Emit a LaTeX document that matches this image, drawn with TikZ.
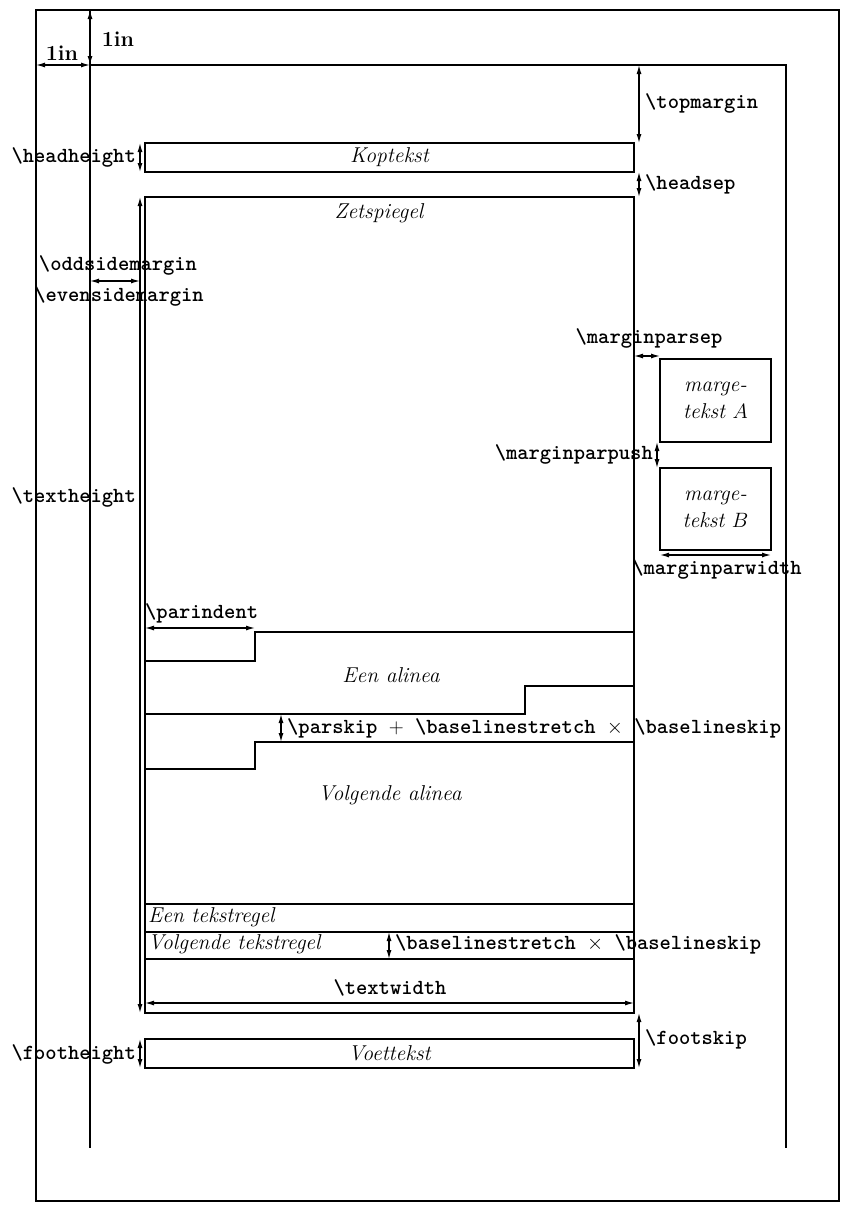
\documentclass[tikz,border=0pt]{standalone}
\usetikzlibrary{arrows.meta}
\newcommand{\fsz}{\fontsize{21.5}{27}\selectfont}
\newcommand{\macro}[1]{\textbackslash #1}

\begin{document}
\begin{tikzpicture}
      [x=1pt, y=-1pt,
      rule/.style={line width=1.5pt},
      box/.style={draw, line width=1.5pt, inner sep=0pt},
      dim/.style={{Latex[length=9pt,width=5pt]}-{Latex[length=9pt,width=5pt]}, line width=1.2pt},
      lbl/.style={inner sep=0pt, font=\fsz\ttfamily\bfseries},
      txt/.style={inner sep=0pt, font=\fsz\itshape}]
      \useasboundingbox (0,0) rectangle (843,1205);
      % page, 1in offsets
      \draw[rule] (36,10) rectangle (839,1201);
      \draw[rule] (90,10) -- (90,1148);
      \draw[rule] (90,65) -- (786,65) -- (786,1148);
      \draw[dim] (90,10) -- (90,65);
      \draw[dim] (36,65) -- (90,65);
      \node[inner sep=0pt, font=\fsz\bfseries] (inh) at (62,53) {1in};
      \node[inner sep=0pt, font=\fsz\bfseries] (inv) at (118,39) {1in};
      % head, body, foot
      \node[box, minimum width=489pt, minimum height=29pt, font=\fsz\itshape] (head) at (389.5,157.5) {Koptekst};
      \node[box, minimum width=489pt, minimum height=816pt] (body) at (389.5,605) {};
      \node[txt] (zet) at (379,213) {Zetspiegel};
      \node[box, minimum width=489pt, minimum height=29pt, font=\fsz\itshape] (foot) at (389.5,1053.5) {Voettekst};
      \draw[dim] (639,65) -- (639,143);
      \draw[dim] (639,172) -- (639,197);
      \draw[dim] (639,1013) -- (639,1068);
      \draw[dim] (140,143) -- (140,172);
      \draw[dim] (140,197) -- (140,1013);
      \draw[dim] (140,1039) -- (140,1068);
      \draw[dim] (90,281) -- (140,281);
      \node[lbl, anchor=east] (hhlbl) at (136,157) {\macro{headheight}};
      \node[lbl, anchor=west] (tmlbl) at (645,103) {\macro{topmargin}};
      \node[lbl, anchor=west] (hslbl) at (645,184) {\macro{headsep}};
      \node[lbl] (oddlbl) at (118,265) {\macro{oddsidemargin}};
      \node[lbl] (evenlbl) at (119,296) {\macro{evensidemargin}};
      \node[lbl, anchor=east] (thlbl) at (136,497) {\macro{textheight}};
      \node[lbl, anchor=west] (fslbl) at (645,1039) {\macro{footskip}};
      \node[lbl, anchor=east] (fhlbl) at (136,1054) {\macro{footheight}};
      % marginal notes
      \node[box, minimum width=111pt, minimum height=83pt, align=center, font=\fsz\itshape] (margA) at (715.5,400.5) {marge-\\tekst $A$};
      \node[box, minimum width=111pt, minimum height=82pt, align=center, font=\fsz\itshape] (margB) at (715.5,509) {marge-\\tekst $B$};
      \draw[dim] (634,356) -- (660,356);
      \draw[dim] (657,442) -- (657,468);
      \draw[dim] (660,555) -- (771,555);
      \node[lbl] (mpseplbl) at (649,338) {\macro{marginparsep}};
      \node[lbl, anchor=east] (mppushlbl) at (653,454) {\macro{marginparpush}};
      \node[lbl] (mpwlbl) at (717,569) {\macro{marginparwidth}};
      % paragraphs
      \draw[dim] (145,628) -- (255,628);
      \node[lbl, anchor=west] (pilbl) at (145,613) {\macro{parindent}};
      \draw[rule] (145,661) -- (255,661) -- (255,632) -- (634,632);
      \draw[rule] (634,686) -- (525,686) -- (525,714) -- (145,714);
      \node[txt] (par1) at (391,675) {Een alinea};
      \draw[rule] (145,769) -- (255,769) -- (255,742) -- (634,742);
      \draw[dim] (281,714) -- (281,742);
      \node[lbl, anchor=west] (pslbl) at (287,728) {\macro{parskip} $+$ \macro{baselinestretch} $\times$ \macro{baselineskip}};
      \node[txt] (par2) at (390,795) {Volgende alinea};
      % lines
      \draw[rule] (145,904) -- (634,904);
      \draw[rule] (145,932) -- (634,932);
      \draw[rule] (145,959) -- (634,959);
      \node[txt, anchor=west] (line1) at (148,917) {Een tekstregel};
      \node[txt, anchor=west] (line2) at (148,944) {Volgende tekstregel};
      \draw[dim] (389,932) -- (389,959);
      \node[lbl, anchor=west] (bslbl) at (395,944) {\macro{baselinestretch} $\times$ \macro{baselineskip}};
      \draw[dim] (145,1003) -- (634,1003);
      \node[lbl] (twlbl) at (390,988) {\macro{textwidth}};
\end{tikzpicture}
\end{document}
